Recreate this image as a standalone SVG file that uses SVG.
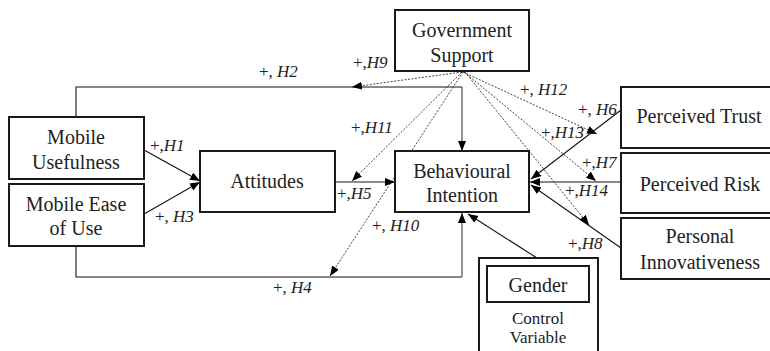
<svg xmlns="http://www.w3.org/2000/svg" width="770" height="351" viewBox="0 0 770 351">
<defs>
<marker id="ah" markerUnits="userSpaceOnUse" markerWidth="11" markerHeight="9" refX="10" refY="4" orient="auto" viewBox="0 0 11 9">
<path d="M0,0 L10,4 L0,8 z" fill="#000"/>
</marker>
<style>
.box{fill:#fff;stroke:#1a1a1a;stroke-width:2}
text{font-family:'Liberation Serif','DejaVu Serif',serif;fill:#222}
.t{font-size:20px;text-anchor:middle}
.s{font-size:17px;text-anchor:middle}
.lb{font-size:17px}
.it{font-style:italic}
.sol{fill:none;stroke:#111;stroke-width:1.1}
.gry{fill:none;stroke:#666;stroke-width:1.4}
.dsh{fill:none;stroke:#111;stroke-width:0.8;stroke-dasharray:2,1.5}
</style>
</defs>
<rect width="770" height="351" fill="#fff"/>

<g id="connectors">
<path class="sol" d="M76,117 V87 H462"/>
<path class="gry" d="M462,87 V151" marker-end="url(#ah)"/>
<path class="sol" d="M76,246 V277 H462"/>
<path class="gry" d="M462,277 V213" marker-end="url(#ah)"/>
<path class="sol" d="M144,150 L200,181" marker-end="url(#ah)"/>
<path class="sol" d="M144,214 L200,182" marker-end="url(#ah)"/>
<path class="gry" d="M335,182 H395" marker-end="url(#ah)"/>
<path class="sol" d="M621,110 L531,179" marker-end="url(#ah)"/>
<path class="sol" d="M621,182 H530" marker-end="url(#ah)"/>
<path class="sol" d="M621,248 L531,185" marker-end="url(#ah)"/>
<path class="sol" d="M537,258 L468,214" marker-end="url(#ah)"/>
<path class="dsh" d="M462,72 L352,87" marker-end="url(#ah)"/>
<path class="dsh" d="M462,72 L352,181" marker-end="url(#ah)"/>
<path class="dsh" d="M463,72 L330,276" marker-end="url(#ah)"/>
<path class="dsh" d="M463,72 L597,134" marker-end="url(#ah)"/>
<path class="dsh" d="M464,72 L596,181" marker-end="url(#ah)"/>
<path class="dsh" d="M465,72 L589,225" marker-end="url(#ah)"/>
</g>

<g id="labels">
<text class="lb" x="259" y="77">+, <tspan class="it">H2</tspan></text>
<text class="lb" x="353" y="68">+,<tspan class="it">H9</tspan></text>
<text class="lb" x="150" y="151">+,<tspan class="it">H1</tspan></text>
<text class="lb" x="155" y="222">+, <tspan class="it">H3</tspan></text>
<text class="lb" x="351" y="133">+,<tspan class="it">H11</tspan></text>
<text class="lb" x="337" y="199">+,<tspan class="it">H5</tspan></text>
<text class="lb" x="372" y="231">+, <tspan class="it">H10</tspan></text>
<text class="lb" x="273" y="293">+, <tspan class="it">H4</tspan></text>
<text class="lb" x="520" y="95">+, <tspan class="it">H12</tspan></text>
<text class="lb" x="578" y="115">+, <tspan class="it">H6</tspan></text>
<text class="lb" x="541" y="138">+,<tspan class="it">H13</tspan></text>
<text class="lb" x="582" y="168">+,<tspan class="it">H7</tspan></text>
<text class="lb" x="565" y="196">+,<tspan class="it">H14</tspan></text>
<text class="lb" x="568" y="249">+,<tspan class="it">H8</tspan></text>
</g>

<g id="government-support">
<rect class="box" x="395" y="10" width="134" height="61"/>
<text class="t" x="462" y="37">Government</text>
<text class="t" x="462" y="62">Support</text>
</g>

<g id="mobile-usefulness">
<rect class="box" x="9" y="117" width="135" height="62"/>
<text class="t" x="76" y="144">Mobile</text>
<text class="t" x="76" y="169">Usefulness</text>
</g>

<g id="mobile-ease-of-use">
<rect class="box" x="9" y="184" width="135" height="62"/>
<text class="t" x="76" y="211">Mobile Ease</text>
<text class="t" x="76" y="235">of Use</text>
</g>

<g id="attitudes">
<rect class="box" x="200" y="151" width="135" height="61"/>
<text class="t" x="267" y="188">Attitudes</text>
</g>

<g id="behavioural-intention">
<rect class="box" x="395" y="151" width="134" height="61"/>
<text class="t" x="462" y="178">Behavioural</text>
<text class="t" x="462" y="202">Intention</text>
</g>

<g id="perceived-trust">
<rect class="box" x="621" y="87" width="160" height="61"/>
<text class="t" x="699" y="123">Perceived Trust</text>
</g>

<g id="perceived-risk">
<rect class="box" x="621" y="153" width="160" height="60"/>
<text class="t" x="700" y="191">Perceived Risk</text>
</g>

<g id="personal-innovativeness">
<rect class="box" x="621" y="218" width="160" height="61"/>
<text class="t" x="700" y="243">Personal</text>
<text class="t" x="700" y="269">Innovativeness</text>
</g>

<g id="gender">
<rect class="box" x="479" y="258" width="119" height="100"/>
<rect class="box" x="487" y="266" width="102" height="36"/>
<text class="t" x="538" y="292">Gender</text>
<text class="s" x="538" y="324">Control</text>
<text class="s" x="538" y="343">Variable</text>
</g>
</svg>
